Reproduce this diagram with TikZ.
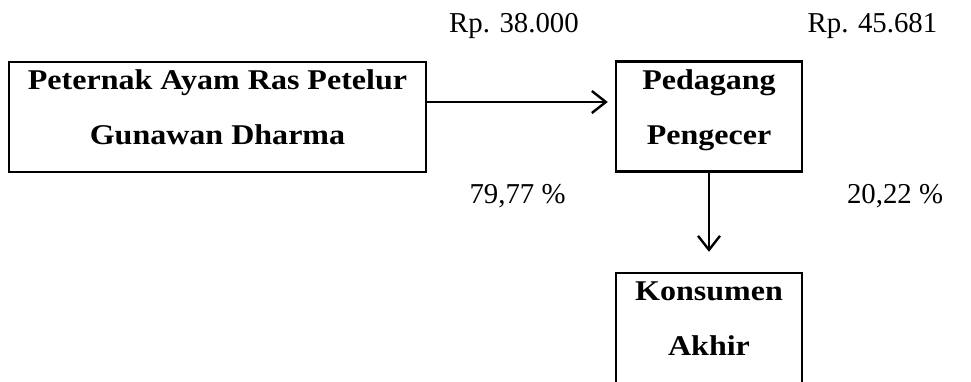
\documentclass[tikz,border=0pt]{standalone}
\usepackage{fontspec}
\setmainfont{Liberation Serif}[BoldFeatures={FakeStretch=1.12}]
\usepackage{tikz}
\usetikzlibrary{arrows.meta}

% equal height and depth for every line in a box
\newcommand{\eqstrut}{\rule[-10pt]{0pt}{20pt}}

\tikzset{
	chainbox/.style={draw, line width=1.2pt, inner sep=0pt, align=center,
		minimum height=55pt, font=\fontsize{14.3}{27.5}\selectfont\bfseries},
	pricetag/.style={anchor=base, inner sep=0pt, font=\fontsize{14.4}{17}\selectfont},
	flow/.style={line width=1.2pt, -{Straight Barb[length=7pt,width=11pt,line width=1.2pt]}}
}

\begin{document}
\begin{tikzpicture}[x=0.5pt,y=-0.5pt]
	
	%the page
	\useasboundingbox (0,0) rectangle (971,381);
	
	% the marketing channel
	\node[chainbox, minimum width=208.5pt] (farm) at (217.5,117)
		{\eqstrut Peternak Ayam Ras Petelur\\ \eqstrut Gunawan Dharma};
	\node[chainbox, minimum width=93pt] (retail) at (709,116.5)
		{\eqstrut Pedagang\\ \eqstrut Pengecer};
	\node[chainbox, minimum width=93pt] (consumer) at (709,328)
		{\eqstrut Konsumen\\ \eqstrut Akhir};
	
	% the arrows
	\coordinate (level) at (0,102);
	\draw[flow, shorten >=3.5pt] (farm.east |- level) -- (retail.west |- level);
	\draw[flow, shorten >=10pt] (retail.south) -- (consumer.north);
	
	% prices and shares
	\node[pricetag] (pfarm) at (514,32) {Rp. 38.000};
	\node[pricetag] (pretail) at (872.5,32) {Rp. 45.681};
	\node[pricetag] (sfarm) at (517.5,203) {79,77 \%};
	\node[pricetag] (sretail) at (895,203) {20,22 \%};
	
\end{tikzpicture}
\end{document}
